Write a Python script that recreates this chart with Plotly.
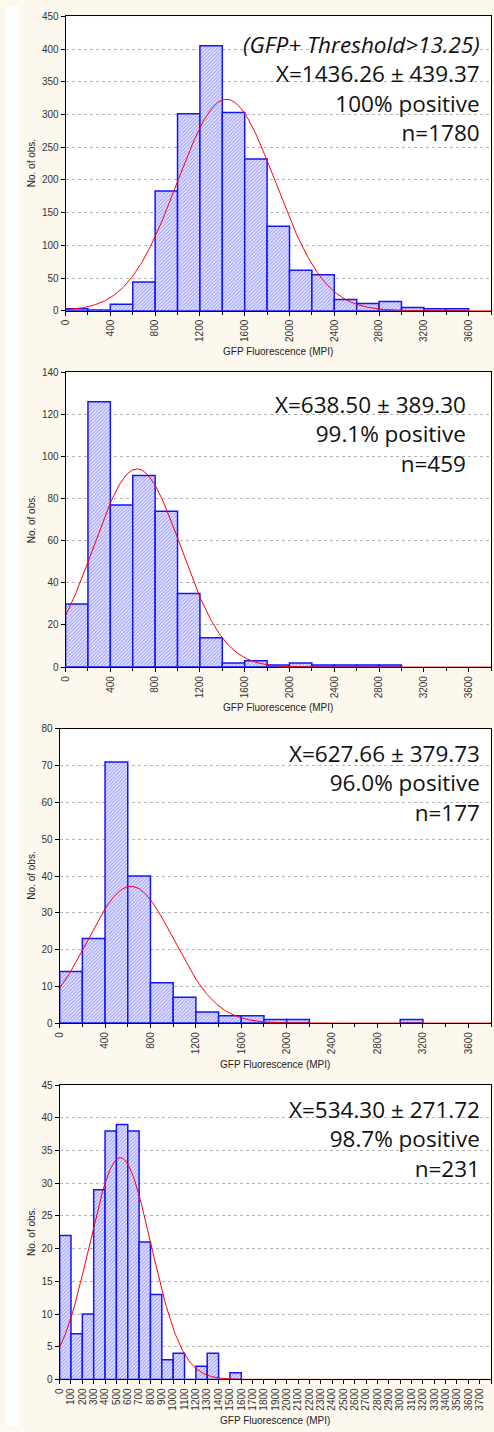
import numpy as np
import plotly.graph_objects as go

W, H = 494, 1432

# ---------------- data ----------------
p1_bin_start = [0, 200, 400, 600, 800, 1000, 1200, 1400, 1600, 1800, 2000, 2200, 2400, 2600, 2800, 3000, 3200, 3400]
p1_counts = [3, 1, 10, 44, 183, 301, 405, 303, 232, 129, 62, 55, 17, 11, 14, 5, 3, 3]
p1_mean, p1_sd, p1_n = 1436.26, 439.37, 1780
p1_lines = ["<i>(GFP+ Threshold>13.25)</i>", "X=1436.26 ± 439.37", "100% positive", "n=1780"]

p2_bin_start = [0, 200, 400, 600, 800, 1000, 1200, 1400, 1600, 1800, 2000, 2200, 2400, 2600, 2800]
p2_counts = [30, 126, 77, 91, 74, 35, 14, 2, 3, 1, 2, 1, 1, 1, 1]
p2_mean, p2_sd, p2_n = 638.50, 389.30, 459
p2_lines = ["X=638.50 ± 389.30", "99.1% positive", "n=459"]

p3_bin_start = [0, 200, 400, 600, 800, 1000, 1200, 1400, 1600, 1800, 2000, 3000]
p3_counts = [14, 23, 71, 40, 11, 7, 3, 2, 2, 1, 1, 1]
p3_mean, p3_sd, p3_n = 627.66, 379.73, 177
p3_lines = ["X=627.66 ± 379.73", "96.0% positive", "n=177"]

p4_bin_start = [0, 100, 200, 300, 400, 500, 600, 700, 800, 900, 1000, 1100, 1200, 1300, 1400, 1500]
p4_counts = [22, 7, 10, 29, 38, 39, 38, 21, 13, 3, 4, 0, 2, 4, 0, 1]
p4_mean, p4_sd, p4_n = 534.30, 271.72, 231
p4_lines = ["X=534.30 ± 271.72", "98.7% positive", "n=231"]

x_title = "GFP Fluorescence (MPI)"
y_title = "No. of obs."

# ---------------- layout geometry (pixels) ----------------
panels = [
    dict(bins=p1_bin_start, counts=p1_counts, bw=200, mean=p1_mean, sd=p1_sd, n=p1_n, lines=p1_lines,
         px=(60.3, 491), py=(10.5, 307.3), ymax=450, ydt=50, xdt=400, minor=200,
         text_right=482, text_cy=82.9, xtitle_y=348),
    dict(bins=p2_bin_start, counts=p2_counts, bw=200, mean=p2_mean, sd=p2_sd, n=p2_n, lines=p2_lines,
         px=(60.3, 491), py=(369.3, 666.7), ymax=140, ydt=20, xdt=400, minor=200,
         text_right=468, text_cy=431.5, xtitle_y=707),
    dict(bins=p3_bin_start, counts=p3_counts, bw=200, mean=p3_mean, sd=p3_sd, n=p3_n, lines=p3_lines,
         px=(54.3, 491), py=(729, 1025.7), ymax=80, ydt=10, xdt=400, minor=200,
         text_right=482, text_cy=783.3, xtitle_y=1067),
    dict(bins=p4_bin_start, counts=p4_counts, bw=100, mean=p4_mean, sd=p4_sd, n=p4_n, lines=p4_lines,
         px=(54.3, 491), py=(1088.3, 1385), ymax=45, ydt=5, xdt=100, minor=None,
         text_right=482, text_cy=1142.6, xtitle_y=1426.5),
]

def fx(p):
    return p / W

def fy(p):
    return 1 - p / H

TICKFONT = dict(family="Arial, Liberation Sans", size=10, color="#333333")
ANNFONT = "Open Sans"

fig = go.Figure()
annotations = []
shapes = [dict(type="rect", xref="paper", yref="paper", x0=0, x1=13 / W, y0=0, y1=1,
               fillcolor="white", line=dict(width=0), layer="below")]

for i, p in enumerate(panels):
    k = "" if i == 0 else str(i + 1)
    xa, ya = "x" + k, "y" + k
    centers = [b + p["bw"] / 2 for b in p["bins"]]
    fig.add_trace(go.Bar(
        x=centers, y=p["counts"], width=[p["bw"]] * len(centers),
        xaxis=xa, yaxis=ya, showlegend=False,
        marker=dict(color="white",
                    line=dict(color="#1414ff", width=1.5),
                    pattern=dict(shape="/", fgcolor="#4a4aff", bgcolor="#f2f2ff", size=2.5, solidity=0.5)),
    ))
    xs = np.linspace(0, 3800, 381)
    ys = p["n"] * p["bw"] / (p["sd"] * np.sqrt(2 * np.pi)) * np.exp(-0.5 * ((xs - p["mean"]) / p["sd"]) ** 2)
    fig.add_trace(go.Scatter(x=xs, y=ys, mode="lines", line=dict(color="#ff0000", width=1),
                             xaxis=xa, yaxis=ya, showlegend=False, hoverinfo="skip"))

    xaxis = dict(domain=[fx(p["px"][0]), fx(p["px"][1])], range=[0, 3800], anchor=ya,
                 tickmode="linear", tick0=0, dtick=p["xdt"], tickangle=-90,
                 ticks="outside", ticklen=4, tickcolor="black", tickfont=TICKFONT,
                 showgrid=False, zeroline=False, showline=True, linecolor="black", linewidth=1,
                 mirror=True, fixedrange=True)
    if p["minor"]:
        xaxis["minor"] = dict(dtick=p["minor"], tick0=0, ticks="outside", ticklen=3, tickcolor="black")
    yaxis = dict(domain=[fy(p["py"][1]), fy(p["py"][0])], range=[0, p["ymax"]], anchor=xa,
                 tickmode="linear", tick0=0, dtick=p["ydt"],
                 ticks="outside", ticklen=4, tickcolor="black", tickfont=TICKFONT,
                 showgrid=True, gridcolor="#b4b4b4", griddash="dot", gridwidth=1,
                 zeroline=False, showline=True, linecolor="black", linewidth=1,
                 mirror=True, fixedrange=True)
    fig.update_layout(**{"xaxis" + k: xaxis, "yaxis" + k: yaxis})

    annotations.append(dict(text="<br>".join(p["lines"]), xref="paper", yref="paper",
                            x=fx(p["text_right"]), y=fy(p["text_cy"]), xanchor="right", yanchor="middle",
                            align="right", showarrow=False,
                            font=dict(family=ANNFONT, size=22.5, color="#111111")))
    annotations.append(dict(text=x_title, xref="paper", yref="paper",
                            x=fx((p["px"][0] + p["px"][1]) / 2), y=fy(p["xtitle_y"]),
                            xanchor="center", yanchor="middle", showarrow=False,
                            font=dict(family="Arial, Liberation Sans", size=10, color="#222222")))
    annotations.append(dict(text=y_title, xref="paper", yref="paper", textangle=-90,
                            x=fx(26), y=fy((p["py"][0] + p["py"][1]) / 2),
                            xanchor="center", yanchor="middle", showarrow=False,
                            font=dict(family="Arial, Liberation Sans", size=10, color="#222222")))

fig.update_layout(width=W, height=H, margin=dict(l=0, r=0, t=0, b=0),
                  paper_bgcolor="#fdf8ee", plot_bgcolor="white",
                  barmode="overlay", annotations=annotations, shapes=shapes)

fig.write_html("out.html")
